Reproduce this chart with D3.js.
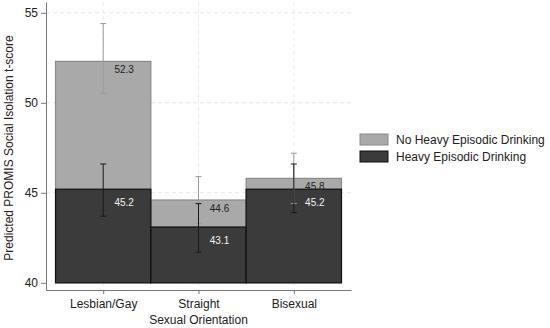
<!DOCTYPE html>
<html>
<head>
<meta charset="utf-8">
<script src="https://cdn.jsdelivr.net/npm/d3@7"></script>
<style>
  body { margin: 0; background: #fff; }
  text { font-family: "Liberation Sans", Arial, sans-serif; }
</style>
</head>
<body>
<div id="chart"></div>
<script>
// categories and series
const categories = ["Lesbian/Gay", "Straight", "Bisexual"];
const seriesNames = ["No Heavy Episodic Drinking", "Heavy Episodic Drinking"];
const noHedValues = [52.3, 44.6, 45.8];
const noHedLow = [50.5, 43.3, 44.4];
const noHedHigh = [54.4, 45.9, 47.2];
const hedValues = [45.2, 43.1, 45.2];
const hedLow = [43.7, 41.7, 43.9];
const hedHigh = [46.6, 44.4, 46.6];
const yTicks = [40, 45, 50, 55];

const width = 550, height = 328;
const baseValue = 40;

const svg = d3.select("#chart").append("svg")
    .attr("width", width)
    .attr("height", height);

// category index 1..3 on a linear scale, like stata's bar positions
const x = d3.scaleLinear().domain([0.4, 3.6]).range([46, 351]);
const y = d3.scaleLinear().domain([39.6, 55.6]).range([290, 2]);
const barW = x(1.5) - x(0.5);

// grid
svg.append("g").selectAll("line")
    .data(yTicks.filter(d => d > 40))
    .enter().append("line")
    .attr("x1", x.range()[0]).attr("x2", x.range()[1])
    .attr("y1", d => y(d)).attr("y2", d => y(d))
    .attr("stroke", "#e6e6e6").attr("stroke-dasharray", "4,3");

svg.append("g").selectAll("line")
    .data(categories)
    .enter().append("line")
    .attr("x1", (d, i) => x(i + 1)).attr("x2", (d, i) => x(i + 1))
    .attr("y1", y.range()[1]).attr("y2", y.range()[0])
    .attr("stroke", "#ececec").attr("stroke-dasharray", "4,3");

function drawBars(values, fill, stroke) {
    svg.append("g").selectAll("rect")
        .data(values)
        .enter().append("rect")
        .attr("x", (d, i) => x(i + 1) - barW / 2)
        .attr("width", barW)
        .attr("y", d => y(d))
        .attr("height", d => y(baseValue) - y(d))
        .attr("fill", fill)
        .attr("stroke", stroke)
        .attr("stroke-width", 1.2);
}

function drawErrors(low, high, color) {
    const g = svg.append("g").attr("stroke", color).attr("stroke-width", 1);
    low.forEach((lo, i) => {
        const cx = x(i + 1);
        g.append("line").attr("x1", cx).attr("x2", cx).attr("y1", y(lo)).attr("y2", y(high[i]));
        g.append("line").attr("x1", cx - 3).attr("x2", cx + 3).attr("y1", y(lo)).attr("y2", y(lo));
        g.append("line").attr("x1", cx - 3).attr("x2", cx + 3).attr("y1", y(high[i])).attr("y2", y(high[i]));
    });
}

function drawLabels(values, color, dy) {
    svg.append("g").selectAll("text")
        .data(values)
        .enter().append("text")
        .attr("x", (d, i) => x(i + 1) + 21)
        .attr("y", d => y(d) + dy)
        .attr("text-anchor", "middle")
        .style("font-size", "10px")
        .attr("fill", color)
        .text(d => d.toFixed(1));
}

drawBars(noHedValues, "#a9a9a9", "#8a8a8a");
drawBars(hedValues, "#3b3b3b", "#111");
drawErrors(noHedLow, noHedHigh, "#9a9a9a");
drawErrors(hedLow, hedHigh, "#1a1a1a");
drawLabels(noHedValues, "#222", 12);
drawLabels(hedValues, "#f2f2f2", 17);

// axes
const yAxis = svg.append("g")
    .attr("transform", `translate(${x.range()[0]},0)`)
    .call(d3.axisLeft(y).tickValues(yTicks).tickSize(5).tickSizeOuter(0));
yAxis.selectAll("text").style("font-size", "12px").attr("fill", "#222");

const xAxis = svg.append("g")
    .attr("transform", `translate(0,${y.range()[0]})`)
    .call(d3.axisBottom(x).tickValues([1, 2, 3]).tickFormat(d => categories[d - 1]).tickSize(4).tickSizeOuter(0));
xAxis.selectAll("text").style("font-size", "12px").attr("fill", "#222").attr("dy", "0.95em");

[yAxis, xAxis].forEach(a => {
    a.select(".domain").attr("stroke", "#777");
    a.selectAll(".tick line").attr("stroke", "#777");
});

svg.append("text")
    .attr("x", (x.range()[0] + x.range()[1]) / 2)
    .attr("y", 324)
    .attr("text-anchor", "middle")
    .style("font-size", "12px")
    .attr("fill", "#222")
    .text("Sexual Orientation");

svg.append("text")
    .attr("transform", `translate(13,${(y.range()[0] + y.range()[1]) / 2 + 2}) rotate(-90)`)
    .attr("text-anchor", "middle")
    .style("font-size", "12px")
    .attr("fill", "#222")
    .text("Predicted PROMIS Social Isolation t-score");

// legend
const legend = svg.append("g").attr("transform", "translate(360,134)");
[["#a9a9a9", "#8a8a8a"], ["#3b3b3b", "#111"]].forEach((c, i) => {
    legend.append("rect")
        .attr("x", 0).attr("y", i * 17)
        .attr("width", 28).attr("height", 11)
        .attr("fill", c[0]).attr("stroke", c[1]);
    legend.append("text")
        .attr("x", 36).attr("y", i * 17 + 10)
        .style("font-size", "12px")
        .attr("fill", "#222")
        .text(seriesNames[i]);
});
</script>
</body>
</html>
